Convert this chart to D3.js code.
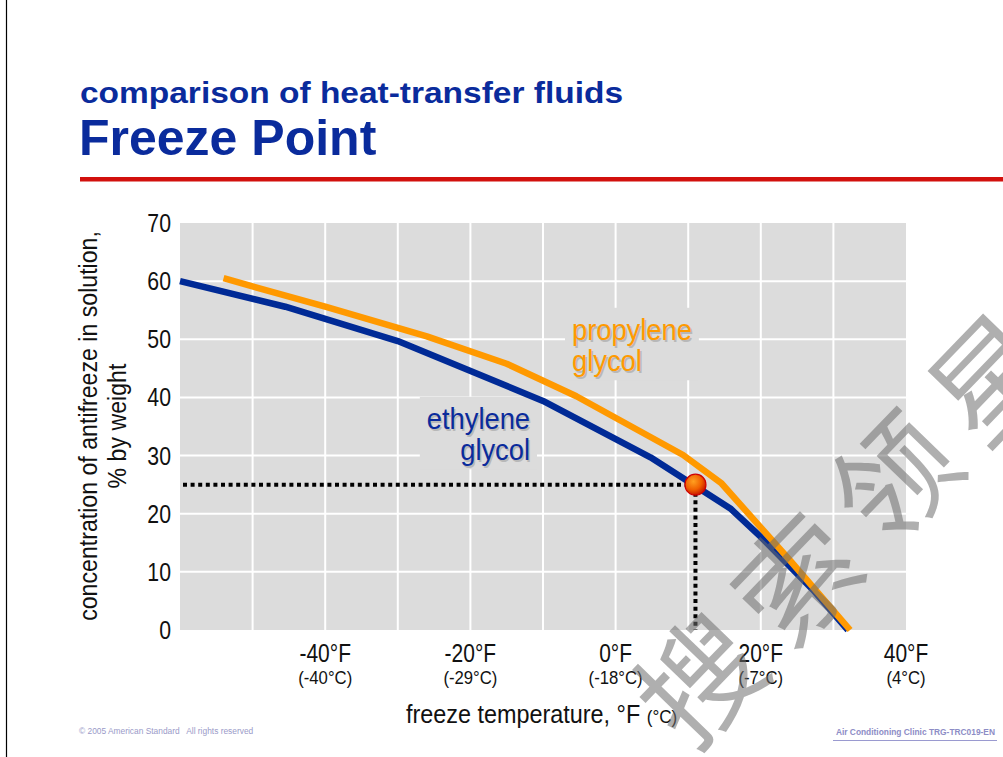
<!DOCTYPE html>
<html>
<head>
<meta charset="utf-8">
<script src="https://cdn.jsdelivr.net/npm/d3@7"></script>
<style>
  html, body { margin: 0; padding: 0; background: #fff; }
  svg { display: block; }
</style>
</head>
<body>
<svg id="chart" width="1003" height="757"></svg>
<script>
// ---------- data ----------
const ethyleneF   = [-60, -45.5, -30, -10, 4.8, 15.8, 20, 27.2, 32];
const ethylenePct = [60, 55.6, 49.7, 39.4, 29.7, 20.9, 16, 6.9, 0];
const propyleneF   = [-54, -40, -26, -15, -5.4, 9.3, 14.6, 24, 32.3];
const propylenePct = [60.5, 55.6, 50.5, 45.8, 40.2, 30.1, 25.2, 12, 0];
const markerF = 11;
const markerPct = 25;
const xTicks = [-40, -20, 0, 20, 40];
const xTickF = ["-40°F", "-20°F", "0°F", "20°F", "40°F"];
const xTickC = ["(-40°C)", "(-29°C)", "(-18°C)", "(-7°C)", "(4°C)"];
const xGrid = [-50, -40, -30, -20, -10, 0, 10, 20, 30];
const yTicks = [0, 10, 20, 30, 40, 50, 60, 70];
const yGrid = [10, 20, 30, 40, 50, 60];
const titleSmall = "comparison of heat-transfer fluids";
const titleBig = "Freeze Point";
const yTitle = ["concentration of antifreeze in solution,", "% by weight"];
const xTitleMain = "freeze temperature, °F";
const xTitleUnit = "(°C)";
const labelEthylene = ["ethylene", "glycol"];
const labelPropylene = ["propylene", "glycol"];
const footerLeft = "© 2005 American Standard   All rights reserved";
const footerRight = "Air Conditioning Clinic TRG-TRC019-EN";
const watermark = ["搜", "索", "领", "星"];

// ---------- setup ----------
const svg = d3.select("#chart");
const SANS = "'Liberation Sans',Arial,Helvetica,sans-serif";
const BLUE_T = "#0a2b9c";
const x = d3.scaleLinear().domain([-60, 40]).range([180, 906]);
const y = d3.scaleLinear().domain([0, 70]).range([630, 223]);

// narrow text helper (horizontal condensing)
function ntext(parent, px, py, txt, size, anchor, sx, fill, rot) {
  const t = parent.append("text")
    .attr("transform", `translate(${px},${py})` + (rot ? ` rotate(${rot})` : "") + ` scale(${sx},1)`)
    .attr("text-anchor", anchor || "start")
    .attr("font-family", SANS).attr("font-size", size).attr("fill", fill || "#111")
    .text(txt);
  return t;
}

// slide border
svg.append("line").attr("x1", 6.5).attr("x2", 6.5).attr("y1", 0).attr("y2", 757)
  .attr("stroke", "#000").attr("stroke-width", 1.2);

// titles
svg.append("text").attr("x", 80).attr("y", 103).text(titleSmall)
  .attr("font-family", SANS).attr("font-weight", "bold").attr("font-size", 29).attr("fill", BLUE_T)
  .attr("textLength", 543).attr("lengthAdjust", "spacingAndGlyphs");
svg.append("text").attr("x", 79).attr("y", 155).text(titleBig)
  .attr("font-family", SANS).attr("font-weight", "bold").attr("font-size", 50).attr("fill", BLUE_T);
svg.append("rect").attr("x", 80).attr("y", 177).attr("width", 923).attr("height", 4.5).attr("fill", "#d2100d");

// plot background
svg.append("rect").attr("x", x(-60)).attr("y", y(70))
  .attr("width", x(40) - x(-60)).attr("height", y(0) - y(70)).attr("fill", "#dcdcdc");

// grid
const grid = svg.append("g").attr("stroke", "#fff").attr("stroke-width", 2);
grid.selectAll(".vg").data(xGrid).join("line")
  .attr("x1", d => x(d)).attr("x2", d => x(d)).attr("y1", y(70)).attr("y2", y(0));
grid.selectAll(".hg").data(yGrid).join("line")
  .attr("x1", x(-60)).attr("x2", x(40)).attr("y1", d => y(d)).attr("y2", d => y(d));

// series labels (with background boxes that hide the grid)
function seriesLabel(lines, xa, yb, anchor, color) {
  const g = svg.append("g");
  const box = g.append("rect").attr("fill", "#dcdcdc");
  const sh = g.append("g");
  const tx = g.append("g");
  lines.forEach((t, i) => {
    ntext(sh, xa + 1.5, yb + i * 31 + 1.5, t, 30, anchor, 0.91, "#b8b8b8");
    ntext(tx, xa, yb + i * 31, t, 30, anchor, 0.91, color);
  });
  const bb = tx.node().getBBox();
  box.attr("x", bb.x - 7).attr("y", bb.y - 5).attr("width", bb.width + 14).attr("height", bb.height + 8);
}
seriesLabel(labelEthylene, 530, 429, "end", "#0a2b9c");
seriesLabel(labelPropylene, 572, 340, "start", "#ff9a00");

// dotted guide lines
svg.append("line").attr("x1", x(-60) + 3).attr("x2", x(markerF) - 8)
  .attr("y1", y(markerPct)).attr("y2", y(markerPct))
  .attr("stroke", "#000").attr("stroke-width", 4).attr("stroke-dasharray", "4,3.6");
svg.append("line").attr("x1", x(markerF)).attr("x2", x(markerF))
  .attr("y1", y(markerPct) + 8).attr("y2", y(0))
  .attr("stroke", "#000").attr("stroke-width", 4).attr("stroke-dasharray", "4,3.6");

// curves
const line = d3.line().x(d => x(d[0])).y(d => y(d[1]));
svg.append("path").datum(d3.zip(ethyleneF, ethylenePct)).attr("d", line)
  .attr("fill", "none").attr("stroke", "#002a96").attr("stroke-width", 6.5).attr("stroke-linejoin", "round");
svg.append("path").datum(d3.zip(propyleneF, propylenePct)).attr("d", line)
  .attr("fill", "none").attr("stroke", "#ff9900").attr("stroke-width", 6.5).attr("stroke-linejoin", "round");

// marker ball
const defs = svg.append("defs");
const rg = defs.append("radialGradient").attr("id", "ball").attr("cx", "40%").attr("cy", "35%").attr("r", "65%");
rg.append("stop").attr("offset", "0%").attr("stop-color", "#ffa020");
rg.append("stop").attr("offset", "60%").attr("stop-color", "#f06000");
rg.append("stop").attr("offset", "100%").attr("stop-color", "#c81800");
svg.append("circle").attr("cx", x(markerF)).attr("cy", y(markerPct)).attr("r", 10.5)
  .attr("fill", "url(#ball)").attr("stroke", "#d00000").attr("stroke-width", 1.2);

// y ticks
const yt = svg.append("g");
yTicks.forEach(d => ntext(yt, 171, y(d) + 9, String(d), 25, "end", 0.85));

// y title
yTitle.forEach((t, i) => ntext(svg, 97 + i * 29, 426, t, 26, "middle", 0.89, "#111", -90));

// x ticks
const xt = svg.append("g");
xTicks.forEach((d, i) => {
  ntext(xt, x(d), 662, xTickF[i], 25, "middle", 0.84);
  ntext(xt, x(d), 684, xTickC[i], 19, "middle", 0.88);
});

// x title
const xtl = svg.append("text").attr("transform", "translate(406,723) scale(0.9,1)")
  .attr("font-family", SANS).attr("fill", "#111");
xtl.append("tspan").attr("font-size", 26).text(xTitleMain + " ");
xtl.append("tspan").attr("font-size", 19).text(xTitleUnit);

// footers
svg.append("text").attr("x", 79).attr("y", 734).text(footerLeft)
  .attr("font-family", SANS).attr("font-size", 8.4).attr("fill", "#9a9ac8")
  .style("white-space", "pre");
svg.append("text").attr("x", 995).attr("y", 735).text(footerRight).attr("text-anchor", "end")
  .attr("font-family", SANS).attr("font-weight", "bold").attr("font-size", 8.4).attr("fill", "#8d8dc6");
svg.append("line").attr("x1", 833).attr("x2", 997).attr("y1", 740.5).attr("y2", 740.5)
  .attr("stroke", "#9a9ad0").attr("stroke-width", 1);

// watermark
const wm = svg.append("g").attr("font-family", "'Noto Sans CJK SC',sans-serif")
  .attr("font-size", 120).attr("fill", "rgba(110,110,110,0.55)");
const wmStart = [695, 675];
const ang = -46;
const step = 140;
watermark.forEach((c, i) => {
  const cx = wmStart[0] + i * step * Math.cos(ang * Math.PI / 180);
  const cy = wmStart[1] + i * step * Math.sin(ang * Math.PI / 180);
  wm.append("text").attr("transform", `translate(${cx},${cy}) rotate(${ang})`)
    .attr("text-anchor", "middle").attr("dominant-baseline", "central").text(c);
});
</script>
</body>
</html>
